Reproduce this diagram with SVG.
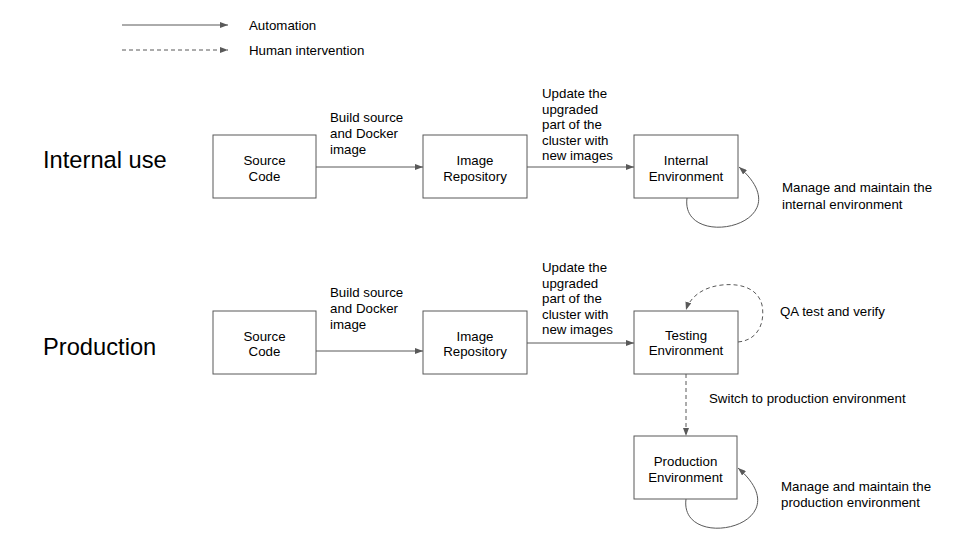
<svg xmlns="http://www.w3.org/2000/svg" width="960" height="540" viewBox="0 0 960 540">
<style>
text{font-family:"Liberation Sans",Arial,sans-serif;font-size:13.3px;fill:#000}
.big{font-size:23.7px}
.c{text-anchor:middle}
.box{fill:#fff;stroke:#595959;stroke-width:1}
.ln{fill:none;stroke:#595959;stroke-width:1}
.d{stroke-dasharray:4 3}
</style>
<defs>
<marker id="ah" markerUnits="userSpaceOnUse" markerWidth="9" markerHeight="6" refX="8" refY="3" orient="auto">
<path d="M0,0 L8,3 L0,6 z" fill="#595959"/>
</marker>
</defs>
<rect width="960" height="540" fill="#fff"/>
<g id="legend">
<line class="ln" x1="122" y1="25" x2="228" y2="25" marker-end="url(#ah)"/>
<text x="249" y="30">Automation</text>
<line class="ln d" x1="122" y1="50" x2="228" y2="50" marker-end="url(#ah)"/>
<text x="249" y="55">Human intervention</text>
</g>
<g id="section-labels">
<text class="big" x="43" y="168">Internal use</text>
<text class="big" x="43" y="355">Production</text>
</g>
<g id="connectors">
<line class="ln" x1="316" y1="167" x2="423" y2="167" marker-end="url(#ah)"/>
<line class="ln" x1="527" y1="167" x2="634" y2="167" marker-end="url(#ah)"/>
<path class="ln" d="M687 198 C680 252 806 225 739 167" marker-end="url(#ah)"/>
<line class="ln" x1="316" y1="351" x2="423" y2="351" marker-end="url(#ah)"/>
<line class="ln" x1="527" y1="343" x2="634" y2="343" marker-end="url(#ah)"/>
<path class="ln d" d="M738 342 C760 340 765 320 762 305 C758 288 740 283 722 285 C703 287 690 297 686 310" marker-end="url(#ah)"/>
<line class="ln d" x1="686" y1="374" x2="686" y2="436" marker-end="url(#ah)"/>
<path class="ln" d="M686 499 C679 553 805 526 738 468" marker-end="url(#ah)"/>
</g>
<g id="connector-labels">
<text x="330"><tspan x="330" y="122">Build source</tspan><tspan x="330" y="138">and Docker</tspan><tspan x="330" y="154">image</tspan></text>
<text x="542"><tspan x="542" y="98">Update the</tspan><tspan x="542" y="113.5">upgraded</tspan><tspan x="542" y="129">part of the</tspan><tspan x="542" y="144.5">cluster with</tspan><tspan x="542" y="160">new images</tspan></text>
<text x="782"><tspan x="782" y="192">Manage and maintain the</tspan><tspan x="782" y="209">internal environment</tspan></text>
<text x="330"><tspan x="330" y="297">Build source</tspan><tspan x="330" y="313">and Docker</tspan><tspan x="330" y="329">image</tspan></text>
<text x="542"><tspan x="542" y="272">Update the</tspan><tspan x="542" y="287.5">upgraded</tspan><tspan x="542" y="303">part of the</tspan><tspan x="542" y="318.5">cluster with</tspan><tspan x="542" y="334">new images</tspan></text>
<text x="780" y="316">QA test and verify</text>
<text x="709" y="403">Switch to production environment</text>
<text x="781"><tspan x="781" y="491">Manage and maintain the</tspan><tspan x="781" y="507">production environment</tspan></text>
</g>
<g id="src-internal">
<rect class="box" x="213" y="135" width="103" height="63"/>
<text class="c" x="264.5" y="165">Source</text><text class="c" x="264.5" y="181">Code</text>
</g>
<g id="repo-internal">
<rect class="box" x="423" y="135" width="104" height="63"/>
<text class="c" x="475" y="165">Image</text><text class="c" x="475" y="181">Repository</text>
</g>
<g id="internal-env">
<rect class="box" x="634" y="135" width="104" height="63"/>
<text class="c" x="686" y="165">Internal</text><text class="c" x="686" y="181">Environment</text>
</g>
<g id="src-prod">
<rect class="box" x="213" y="311" width="103" height="63"/>
<text class="c" x="264.5" y="341">Source</text><text class="c" x="264.5" y="356">Code</text>
</g>
<g id="repo-prod">
<rect class="box" x="423" y="311" width="104" height="63"/>
<text class="c" x="475" y="341">Image</text><text class="c" x="475" y="356">Repository</text>
</g>
<g id="testing-env">
<rect class="box" x="634" y="311" width="104" height="63"/>
<text class="c" x="686" y="340">Testing</text><text class="c" x="686" y="355">Environment</text>
</g>
<g id="production-env">
<rect class="box" x="634" y="436" width="103" height="63"/>
<text class="c" x="685.5" y="466">Production</text><text class="c" x="685.5" y="482">Environment</text>
</g>
</svg>
